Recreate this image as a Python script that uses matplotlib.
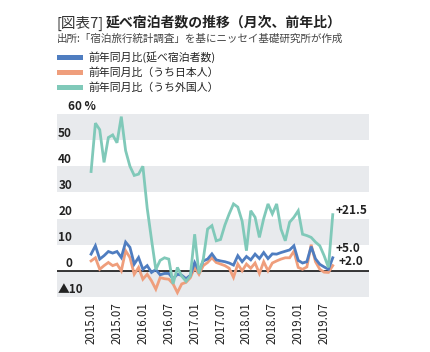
import matplotlib
matplotlib.use("Agg")
import matplotlib.pyplot as plt
import matplotlib.transforms as mtrans
from matplotlib.patches import Rectangle
import numpy as np

plt.rcParams['font.family'] = ['Noto Sans CJK JP', 'DejaVu Sans']

# 2015.01 - 2019.09 (月次、前年比 %)
total = [6.4, 9.6, 4.5, 5.8, 7.4, 6.8, 7.4, 5.1, 11, 9, 2.6, 5.1,
         0.6, 2, -0.6, 0.5, -1.5, -1, -1, -3, -1.3, -1.7, -3, -1.7,
         3.2, 0, 3.8, 4.5, 6.5, 4.2, 3.8, 3.5, 3, 2.2, 5.8, 3.5,
         5.5, 4.2, 6.4, 4.7, 7, 4.7, 6.5, 6.4, 7, 7.5, 8, 9.6,
         4, 3, 3.5, 9.3, 4.6, 2.5, 1.5, 0.6, 5.0]
japanese = [3.8, 5, 0.6, 2, 3.2, 2, 2.6, 0, 7.7, 5.1, -1.3, 1.3,
            -3.2, -1.3, -3.8, -7, -2.6, -3, -3.2, -5, -8.3, -5, -4.4, -2.6,
            1.3, -1.3, 2, 3.2, 5, 3.2, 2.6, 2, 1, -2.5, 2.6, 0,
            2.6, 1, 3, -1, 3.5, 0, 3, 3.8, 4.5, 5, 5, 7.5,
            1.3, 0.6, 1.5, 10, 3.5, 0.6, -0.5, -0.6, 2.0]
foreign = [38, 56.5, 54, 41.5, 51, 52, 49, 59, 46, 40, 36.5, 37,
           40, 24, 12, 0.5, 4, 5, 4.5, -5, 1.3, -2, -4, -2,
           14, -1, 4.5, 16, 17.3, 11.5, 12, 17.5, 21.8, 25.6, 24.4, 19,
           7.7, 23, 20.5, 12.8, 20, 25.6, 21.8, 25.6, 16, 11.5, 18.6, 20.5,
           23, 14, 13.5, 12.8, 11, 9.6, 5.8, 1.3, 21.5]
months = [f"{y}.{m:02d}" for y in range(2015, 2020) for m in range(1, 13)][:len(total)]
tick_pos = list(range(0, len(months), 6))
tick_labels = [months[i] for i in tick_pos]
y_ticks = [60, 50, 40, 30, 20, 10, 0, -10]
y_labels = ["60 %", "50", "40", "30", "20", "10", "0", "▲10"]

names = ["前年同月比(延べ宿泊者数)", "前年同月比（うち日本人）", "前年同月比（うち外国人）"]
colors = ["#4f7dc0", "#ef9e7c", "#80c9b9"]

W, H = 430, 352
fig = plt.figure(figsize=(W / 100, H / 100), dpi=100)
ax = fig.add_axes([57 / W, 1 - 297 / H, (369 - 57) / W, (297 - 114) / H])

x = np.arange(len(total))
ax.set_xlim(-7.9, 64.4)
ax.set_ylim(-10, 60)

# 背景の帯
for lo in [50, 30, 10, -10]:
    ax.axhspan(lo, lo + 10, color="#e8eaed", lw=0, zorder=0)
ax.axhline(0, color="black", lw=1.1, zorder=1)

ax.plot(x, japanese, color=colors[1], lw=2.0, zorder=2, solid_joinstyle="miter")
ax.plot(x, total, color=colors[0], lw=2.0, zorder=3, solid_joinstyle="miter")
ax.plot(x, foreign, color=colors[2], lw=2.0, zorder=4, solid_joinstyle="miter")

for s in ax.spines.values():
    s.set_visible(False)
ax.set_yticks([])
ax.set_xticks(tick_pos)
ax.set_xticklabels(tick_labels, rotation=90, fontsize=8.3, color="#222222")
ax.tick_params(axis="x", length=0, pad=4)

# y軸ラベル (目盛線の少し上)
tr = mtrans.blended_transform_factory(fig.transFigure, ax.transData)
for v, lab in zip(y_ticks, y_labels):
    if v == 60:
        xp, ha = 68, "left"
    elif v == -10:
        xp, ha = 58, "left"
    else:
        xp, ha = 72, "right"
    fig.text(xp / W, v + 2.7, lab, transform=tr, fontsize=8.5, fontweight="bold",
             color="#222222", ha=ha, va="center")

# 最新値
ax.text(56.7, 23, f"+{foreign[-1]:.1f}", fontsize=8.5, fontweight="bold", color="#222222", va="center")
ax.text(56.7, 8.5, f"+{total[-1]:.1f}", fontsize=8.5, fontweight="bold", color="#222222", va="center")
ax.text(57.4, 3.6, f"+{japanese[-1]:.1f}", fontsize=8.5, fontweight="bold", color="#222222", va="center")

# タイトル
fig.text(57 / W, 1 - 23 / H, "[図表7]", fontsize=10.5, color="#333333", va="center")
fig.text(106 / W, 1 - 23 / H, "延べ宿泊者数の推移（月次、前年比）", fontsize=10,
         fontweight="bold", color="#222222", va="center")
fig.text(57 / W, 1 - 39 / H, "出所:「宿泊旅行統計調査」を基にニッセイ基礎研究所が作成",
         fontsize=7.6, color="#444444", va="center")

# 凡例
for i, (nm, c) in enumerate(zip(names, colors)):
    yc = 57.5 + 15 * i
    fig.patches.append(Rectangle((57 / W, 1 - (yc + 2.5) / H), 26 / W, 5 / H,
                                 transform=fig.transFigure, color=c, lw=0))
    fig.text(88 / W, 1 - yc / H, nm, fontsize=7.8, color="#222222", va="center")

fig.savefig("out.png", dpi=100)
